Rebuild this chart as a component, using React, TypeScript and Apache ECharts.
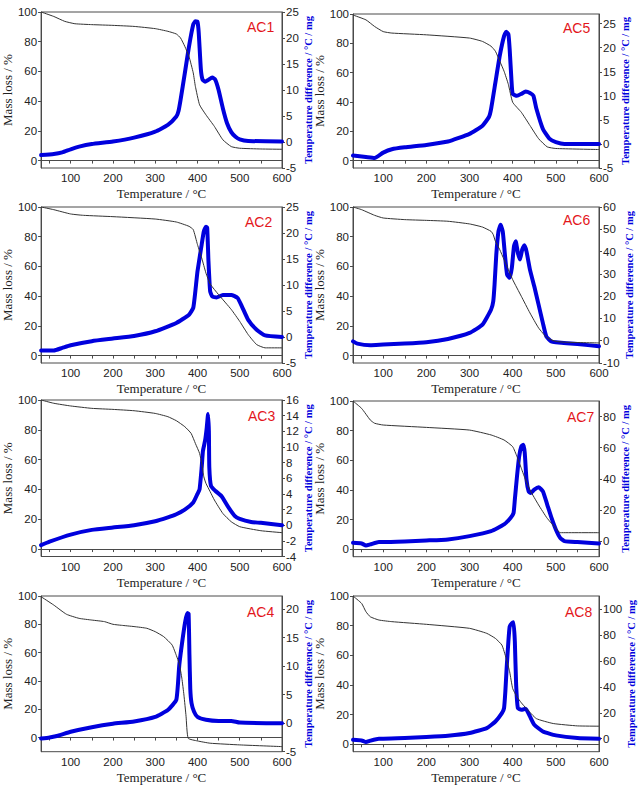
import React, { useEffect, useRef } from "react";
import * as echarts from "echarts";

// ---------- data ----------
const xTickLabels = [100, 200, 300, 400, 500, 600];
const xTicks = [50, 100, 150, 200, 250, 300, 350, 400, 450, 500, 550, 600];
const massTicks = [0, 20, 40, 60, 80, 100];

const panelNames = ["AC1", "AC5", "AC2", "AC6", "AC3", "AC7", "AC4", "AC8"];

// AC1
const ac1TgT = [30, 60, 86, 110, 150, 200, 250, 300, 330, 350, 360, 370, 380, 390, 395, 405, 420, 440, 460, 480, 500, 550, 600];
const ac1Tg = [100, 97, 93.7, 92.1, 91.5, 91, 90.3, 88.8, 87, 85.2, 82.5, 76.9, 70, 59, 50, 37.5, 30.8, 23, 14, 9.4, 8.3, 7.8, 7.6];
const ac1DtaT = [30, 60, 80, 100, 120, 150, 200, 250, 300, 330, 350, 355, 360, 370, 380, 390, 395, 400, 403, 408, 412, 418, 425, 435, 442, 450, 460, 470, 480, 490, 500, 520, 600];
const ac1Dta = [-2.5, -2.3, -2.0, -1.4, -0.9, -0.4, 0.1, 0.85, 2.0, 3.3, 4.9, 5.9, 8.1, 13.2, 18.4, 22.6, 23.2, 23.1, 21, 14, 12, 11.6, 11.9, 12.4, 12.0, 10, 6.5, 3.6, 1.9, 1.0, 0.5, 0.2, 0.1];

// AC5
const ac5TgT = [30, 60, 80, 100, 120, 200, 300, 330, 350, 360, 370, 380, 390, 400, 420, 440, 460, 480, 500, 600];
const ac5Tg = [99.3, 96, 91.5, 88, 87, 85.8, 83.6, 81.3, 78, 74.6, 67.9, 61, 52, 39.8, 33, 24, 15, 9.4, 8.3, 7.6];
const ac5DtaT = [30, 60, 80, 100, 120, 150, 200, 250, 300, 330, 345, 350, 360, 370, 380, 385, 390, 393, 397, 400, 410, 420, 430, 440, 448, 455, 470, 485, 500, 520, 600];
const ac5Dta = [-2.4, -2.7, -2.9, -1.8, -1.1, -0.7, -0.2, 0.5, 2.1, 3.8, 5.6, 7.3, 12.8, 18.3, 22.4, 23.3, 22.8, 19.7, 13.5, 10.4, 10, 10.4, 10.9, 10.6, 10, 7.3, 3.1, 1.1, 0.4, 0, 0];

// AC2
const ac2TgT = [30, 60, 100, 130, 200, 300, 350, 380, 390, 400, 410, 420, 430, 450, 480, 500, 520, 540, 560, 600];
const ac2Tg = [100, 98.2, 95.3, 94.4, 93.5, 91.9, 89.9, 87, 84.8, 74.7, 65.7, 55.6, 48.2, 41, 31, 23, 14.1, 7.4, 5.2, 5.2];
const ac2DtaT = [30, 60, 80, 100, 150, 200, 250, 300, 350, 380, 390, 395, 400, 410, 415, 420, 423, 426, 430, 435, 445, 460, 480, 495, 505, 520, 540, 560, 600];
const ac2Dta = [-2.6, -2.6, -2.1, -1.6, -0.8, -0.3, 0.2, 1.1, 2.7, 4.3, 5.6, 8.8, 12.6, 17.8, 20.3, 21.2, 21, 14.6, 8.8, 7.8, 7.6, 8.1, 8.1, 7.5, 5.9, 3.3, 1.4, 0.3, 0];

// AC6
const ac6TgT = [30, 50, 80, 100, 150, 200, 250, 300, 330, 350, 355, 360, 370, 380, 400, 420, 440, 460, 480, 500, 520, 600];
const ac6Tg = [100, 98.2, 94.4, 92.6, 91.5, 91, 90.4, 88.6, 86.5, 83.6, 81.4, 76.9, 71.3, 64.6, 51.1, 39.9, 28.7, 18.6, 11.9, 9.6, 9, 8.5];
const ac6DtaT = [30, 40, 70, 100, 150, 200, 250, 300, 330, 350, 355, 358, 362, 367, 372, 377, 382, 387, 393, 398, 403, 407, 412, 417, 422, 427, 432, 440, 450, 460, 470, 478, 490, 500, 550, 600];
const ac6Dta = [-0.3, -1.3, -2, -1.7, -1.3, -0.7, 0.8, 3.5, 7.2, 14, 17.7, 25.2, 38.6, 49, 52, 49, 38.6, 29.7, 28.2, 32.6, 42.4, 44.6, 39.4, 36.4, 40.9, 42.8, 40.1, 31.9, 24.4, 16.2, 7.9, 1.9, -0.4, -0.7, -1.5, -2.5];

// AC3
const ac3TgT = [30, 60, 100, 150, 200, 250, 300, 330, 350, 370, 385, 395, 405, 410, 415, 420, 430, 440, 460, 480, 500, 550, 600];
const ac3Tg = [100, 97.8, 96, 94.4, 93.7, 92.8, 91, 88.8, 86.1, 82.1, 77.6, 70.9, 64.2, 57.5, 48.5, 44.1, 38.5, 32.9, 23.9, 18.3, 15, 12.3, 11];
const ac3DtaT = [30, 50, 100, 150, 200, 250, 300, 330, 350, 370, 390, 400, 405, 410, 413, 418, 422, 425, 427, 428, 432, 442, 457, 473, 488, 500, 527, 550, 600];
const ac3Dta = [-2.55, -2.1, -1.2, -0.6, -0.3, 0, 0.5, 1.0, 1.4, 2.0, 2.9, 4, 4.6, 7.4, 9.5, 10.8, 12.5, 14.2, 12, 7.4, 5.0, 4.4, 3.7, 2.3, 1.2, 0.8, 0.4, 0.3, 0];

// AC7
const ac7TgT = [30, 50, 70, 80, 100, 200, 300, 350, 380, 400, 410, 420, 430, 440, 460, 480, 500, 510, 600];
const ac7Tg = [100, 95, 87.2, 85, 83.8, 82.2, 80.4, 77.1, 73.7, 69.2, 62.5, 54.6, 46.7, 40, 29.9, 20.9, 14.2, 11.2, 11.2];
const ac7DtaT = [30, 50, 60, 70, 90, 100, 150, 200, 250, 300, 350, 380, 395, 402, 405, 410, 415, 420, 425, 428, 432, 437, 442, 450, 460, 470, 480, 490, 500, 510, 520, 550, 600];
const ac7Dta = [-1.1, -1.5, -2.8, -2.1, -0.6, -0.6, -0.2, 0.4, 1.1, 3.2, 6.4, 10.7, 14.9, 18.1, 26.7, 41.6, 54.4, 60.8, 61.9, 56.5, 39.5, 32, 30.9, 33.1, 34.6, 32, 23.5, 14.9, 7.5, 2.1, 0, -0.6, -1.5];

// AC4
const ac4TgT = [30, 60, 90, 120, 150, 180, 200, 220, 250, 280, 300, 320, 340, 350, 357, 363, 368, 373, 378, 400, 430, 500, 600];
const ac4Tg = [99.5, 93.6, 87.1, 84.2, 83, 81.9, 80, 79.3, 78.4, 77.2, 74.8, 71.3, 65.4, 58, 52, 42, 30, 15, -0.5, -2.4, -4, -5.2, -6.4];
const ac4DtaT = [30, 50, 70, 100, 150, 200, 250, 300, 330, 350, 357, 364, 371, 376, 379, 381, 383, 386, 392, 400, 420, 450, 480, 500, 600];
const ac4Dta = [-2.7, -2.5, -2.2, -1.5, -0.7, -0.1, 0.3, 1.1, 2.3, 4.1, 10.2, 14.3, 17.8, 19.3, 19.2, 12, 6, 3.5, 2.0, 1.1, 0.6, 0.4, 0.4, 0.1, 0];

// AC8
const ac8TgT = [30, 50, 60, 70, 90, 120, 200, 300, 340, 360, 375, 385, 393, 400, 410, 420, 432, 455, 494, 550, 600];
const ac8Tg = [100, 95, 89.4, 86, 83.8, 82.7, 80.9, 78.2, 74.8, 71.4, 66.9, 57.9, 48.9, 37.6, 32, 28, 24, 17.3, 14, 12.4, 12.2];
const ac8DtaT = [30, 50, 60, 70, 90, 100, 150, 200, 250, 300, 340, 360, 375, 380, 383, 386, 390, 393, 398, 402, 405, 408, 412, 420, 430, 440, 450, 470, 500, 550, 600];
const ac8Dta = [-0.8, -1.3, -2.6, -1.5, 0, 0, 0.5, 1.3, 2.3, 4.4, 8.2, 13.3, 19.7, 23.6, 36.4, 54.4, 74.9, 86.4, 89, 89.7, 74.9, 41.5, 23.6, 22.3, 23.1, 17.2, 10.8, 5.6, 2.6, 0.5, 0];

// right-axis tick labels per panel (order as panelNames)
const rightTicks = [
  [-5, 0, 5, 10, 15, 20, 25],
  [-5, 0, 5, 10, 15, 20, 25],
  [-5, 0, 5, 10, 15, 20, 25],
  [-10, 0, 10, 20, 30, 40, 50, 60],
  [-4, -2, 0, 2, 4, 6, 8, 10, 12, 14, 16],
  [0, 20, 40, 60, 80],
  [-5, 0, 5, 10, 15, 20],
  [0, 20, 40, 60, 80, 100],
];
const rightRanges = [
  [-5, 25],
  [-5, 27],
  [-5, 25],
  [-10, 60],
  [-4, 16],
  [-10, 90],
  [-5, 22.3],
  [-10, 110],
];
const leftMins = [-5, -5, -5, -5, -5, -5, -10, -5];

const tgData = [
  [ac1TgT, ac1Tg], [ac5TgT, ac5Tg], [ac2TgT, ac2Tg], [ac6TgT, ac6Tg],
  [ac3TgT, ac3Tg], [ac7TgT, ac7Tg], [ac4TgT, ac4Tg], [ac8TgT, ac8Tg],
];
const dtaData = [
  [ac1DtaT, ac1Dta], [ac5DtaT, ac5Dta], [ac2DtaT, ac2Dta], [ac6DtaT, ac6Dta],
  [ac3DtaT, ac3Dta], [ac7DtaT, ac7Dta], [ac4DtaT, ac4Dta], [ac8DtaT, ac8Dta],
];

// ---------- layout ----------
const grids = [
  { left: 36, top: 12, width: 246, height: 156 },
  { left: 353, top: 14, width: 246, height: 154 },
  { left: 36, top: 207, width: 246, height: 156 },
  { left: 353, top: 207, width: 246, height: 156 },
  { left: 36, top: 400, width: 246, height: 156.5 },
  { left: 353, top: 401, width: 246, height: 155.7 },
  { left: 36, top: 596, width: 246, height: 155.7 },
  { left: 353, top: 596, width: 246, height: 155.7 },
];
const labelPos = [
  [247, 27], [563, 28], [245, 222], [563, 220],
  [248, 416], [567, 417], [247, 612], [565, 612],
];

const SANS = "'Liberation Sans', Arial, Helvetica, sans-serif";
const SERIF = "'Liberation Serif', 'Times New Roman', Times, serif";
const AXIS_COLOR = "#4a4a4a";
const TEXT_COLOR = "#222";
const BLUE = "#0000dd";

const zip = (a: number[], b: number[]) => a.map((v, i) => [v, b[i]]);

export default function App() {
  const ref = useRef<HTMLDivElement>(null);
  useEffect(() => {
    if (!ref.current) return;
    const chart = echarts.init(ref.current, undefined, { renderer: "svg" });

    const xAxis: any[] = [];
    const yAxis: any[] = [];
    const series: any[] = [];
    const graphic: any[] = [];

    grids.forEach((g, i) => {
      xAxis.push({
        type: "value",
        gridIndex: i,
        min: 30,
        max: 600,
        axisLine: { show: true, lineStyle: { color: AXIS_COLOR, width: 1 } },
        axisTick: { show: true, customValues: xTicks, length: 3, lineStyle: { color: AXIS_COLOR } },
        axisLabel: { customValues: xTickLabels, fontSize: 11.5, color: TEXT_COLOR, fontFamily: SANS, margin: 4 },
        splitLine: { show: false },
        name: "Temperature / °C",
        nameLocation: "middle",
        nameGap: 19,
        nameTextStyle: { fontFamily: SERIF, fontSize: 13, color: TEXT_COLOR },
      });
      yAxis.push({
        type: "value",
        gridIndex: i,
        position: "left",
        min: leftMins[i],
        max: 100,
        axisLine: { show: true, lineStyle: { color: AXIS_COLOR, width: 1 } },
        axisTick: { show: true, customValues: massTicks, length: 3, lineStyle: { color: AXIS_COLOR } },
        axisLabel: { customValues: massTicks, fontSize: 11.5, color: TEXT_COLOR, fontFamily: SANS, margin: 4 },
        splitLine: { show: false },
        name: "Mass loss / %",
        nameLocation: "middle",
        nameGap: 22,
        nameTextStyle: { fontFamily: SERIF, fontSize: 13, color: TEXT_COLOR },
      });
      yAxis.push({
        type: "value",
        gridIndex: i,
        position: "right",
        min: rightRanges[i][0],
        max: rightRanges[i][1],
        axisLine: { show: true, lineStyle: { color: AXIS_COLOR, width: 1 } },
        axisTick: { show: true, customValues: rightTicks[i], length: 3, lineStyle: { color: AXIS_COLOR } },
        axisLabel: { customValues: rightTicks[i], fontSize: 11.5, color: TEXT_COLOR, fontFamily: SANS, margin: 4 },
        splitLine: { show: false },
        name: "Temperature difference / °C / mg",
        nameLocation: "middle",
        nameGap: 21,
        nameTextStyle: { fontFamily: SERIF, fontSize: 10.5, fontWeight: "bold", color: BLUE },
      });
      series.push({
        type: "line",
        xAxisIndex: i,
        yAxisIndex: 2 * i + 1,
        data: zip(dtaData[i][0], dtaData[i][1]),
        showSymbol: false,
        smooth: 0.15,
        lineStyle: { color: BLUE, width: 4, cap: "round", join: "round" },
        z: 2,
      });
      series.push({
        type: "line",
        xAxisIndex: i,
        yAxisIndex: 2 * i,
        data: zip(tgData[i][0], tgData[i][1]),
        showSymbol: false,
        smooth: 0.15,
        lineStyle: { color: "#333", width: 1 },
        z: 3,
      });
      graphic.push({
        type: "text",
        x: labelPos[i][0],
        y: labelPos[i][1],
        style: {
          text: panelNames[i],
          fill: "#e3161b",
          font: `14px ${SANS}`,
          textVerticalAlign: "middle",
        },
      });
    });

    chart.setOption({
      animation: false,
      backgroundColor: "#ffffff",
      grid: grids.map((g) => ({ ...g, show: true, borderColor: AXIS_COLOR, borderWidth: 1, backgroundColor: "transparent" })),
      xAxis,
      yAxis,
      series,
      graphic,
    });
    return () => chart.dispose();
  }, []);

  return (
    <div
      ref={ref}
      style={{ position: "absolute", left: 0, top: 0, width: 639, height: 786, background: "#fff" }}
    />
  );
}
